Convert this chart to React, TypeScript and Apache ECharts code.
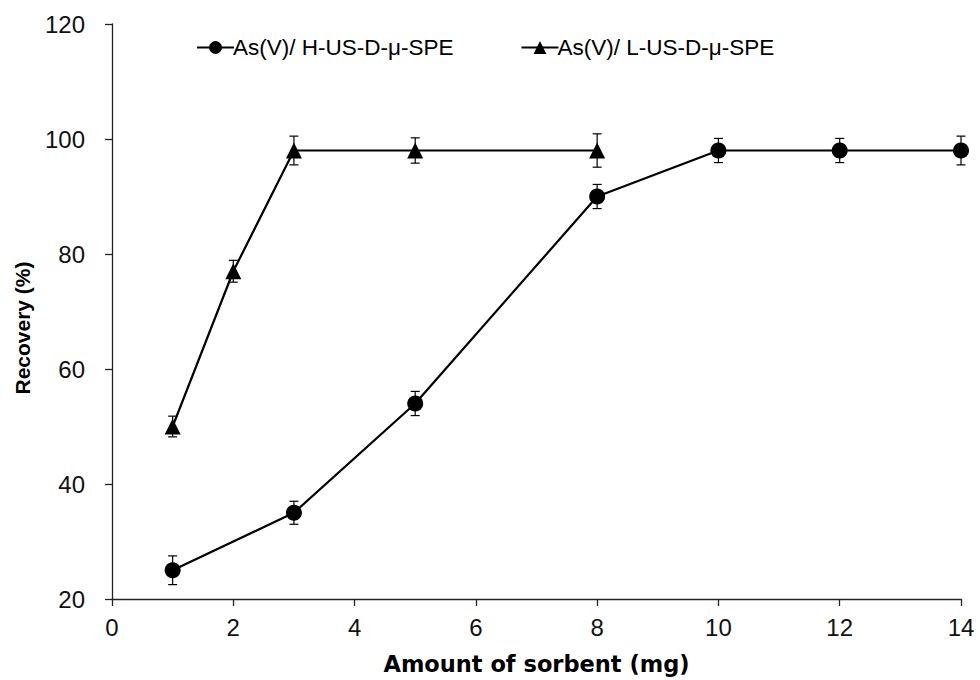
import React, { useEffect, useRef } from "react";
import * as echarts from "echarts";

const seriesHName = "As(V)/ H-US-D-μ-SPE";
const seriesLName = "As(V)/ L-US-D-μ-SPE";

const hX = [1, 3, 5, 8, 10, 12, 14];
const hY = [25, 35, 54, 90, 98, 98, 98];
const hErr = [2.5, 2, 2.1, 2.1, 2.1, 2.1, 2.5];

const lX = [1, 2, 3, 5, 8];
const lY = [50, 77, 98, 98, 98];
const lErr = [1.8, 1.9, 2.5, 2.2, 2.9];

const xTicks = [0, 2, 4, 6, 8, 10, 12, 14];
const yTicks = [20, 40, 60, 80, 100, 120];

const xTitle = "Amount of sorbent (mg)";
const yTitle = "Recovery (%)";

const FONT = "Liberation Sans, Arial, sans-serif";

export default function App() {
  const ref = useRef<HTMLDivElement>(null);
  useEffect(() => {
    if (!ref.current) return;
    const chart = echarts.init(ref.current, null, { renderer: "svg" });
    const errData = (xs: number[], ys: number[], es: number[]) =>
      xs.map((x, i) => [x, ys[i] - es[i], ys[i] + es[i]]);
    const renderErr = (params: any, api: any) => {
      const x = api.value(0);
      const p1 = api.coord([x, api.value(1)]);
      const p2 = api.coord([x, api.value(2)]);
      const w = 4.5;
      const st = { stroke: "#000", lineWidth: 1.2 };
      return {
        type: "group",
        children: [
          { type: "line", shape: { x1: p1[0], y1: p1[1], x2: p2[0], y2: p2[1] }, style: st },
          { type: "line", shape: { x1: p1[0] - w, y1: p1[1], x2: p1[0] + w, y2: p1[1] }, style: st },
          { type: "line", shape: { x1: p2[0] - w, y1: p2[1], x2: p2[0] + w, y2: p2[1] }, style: st },
        ],
      };
    };
    chart.setOption({
      animation: false,
      backgroundColor: "#fff",
      grid: { left: 112, right: 19, top: 24, bottom: 81, containLabel: false },
      legend: {
        top: 31,
        left: 191,
        itemGap: 67,
        itemWidth: 37,
        itemHeight: 16,
        textStyle: { fontFamily: FONT, fontSize: 22.5, color: "#000", padding: [0, 0, 0, -6] },
        data: [seriesHName, seriesLName],
      },
      graphic: [
        {
          type: "text",
          x: 22,
          y: 328,
          rotation: Math.PI / 2,
          style: {
            text: yTitle,
            fontFamily: FONT,
            fontSize: 21,
            fontWeight: "bold",
            fill: "#000",
            align: "center",
            verticalAlign: "middle",
          },
        },
      ],
      xAxis: {
        type: "value",
        min: 0,
        max: 14,
        interval: 2,
        name: xTitle,
        nameLocation: "middle",
        nameGap: 53,
        nameTextStyle: { fontFamily: "DejaVu Sans, sans-serif", fontSize: 22.5, fontWeight: "bold", color: "#000" },
        axisLine: { show: true, lineStyle: { color: "#222", width: 1.3 } },
        axisTick: { show: true, length: 7, lineStyle: { color: "#222", width: 1.3 } },
        axisLabel: {
          fontFamily: FONT,
          fontSize: 24,
          color: "#111",
          margin: 16,
          formatter: (v: number) => (xTicks.includes(v) ? String(v) : ""),
        },
        splitLine: { show: false },
      },
      yAxis: {
        type: "value",
        min: 20,
        max: 120,
        interval: 20,
        axisLine: { show: true, lineStyle: { color: "#222", width: 1.3 } },
        axisTick: { show: true, length: 7, lineStyle: { color: "#222", width: 1.3 } },
        axisLabel: {
          fontFamily: FONT,
          fontSize: 24,
          color: "#111",
          margin: 27,
          formatter: (v: number) => (yTicks.includes(v) ? String(v) : ""),
        },
        splitLine: { show: false },
      },
      series: [
        {
          name: seriesHName,
          type: "line",
          data: hX.map((x, i) => [x, hY[i]]),
          symbol: "circle",
          symbolSize: 16,
          lineStyle: { color: "#000", width: 2.2 },
          itemStyle: { color: "#000" },
          z: 3,
        },
        {
          name: seriesLName,
          type: "line",
          data: lX.map((x, i) => [x, lY[i]]),
          symbol: "triangle",
          symbolSize: 16,
          lineStyle: { color: "#000", width: 2.2 },
          itemStyle: { color: "#000" },
          z: 3,
        },
        {
          name: "errH",
          type: "custom",
          data: errData(hX, hY, hErr),
          renderItem: renderErr,
          z: 4,
          silent: true,
        },
        {
          name: "errL",
          type: "custom",
          data: errData(lX, lY, lErr),
          renderItem: renderErr,
          z: 4,
          silent: true,
        },
      ],
    });
    return () => chart.dispose();
  }, []);
  return <div ref={ref} style={{ width: 980, height: 680, position: "absolute", left: 0, top: 0 }} />;
}
